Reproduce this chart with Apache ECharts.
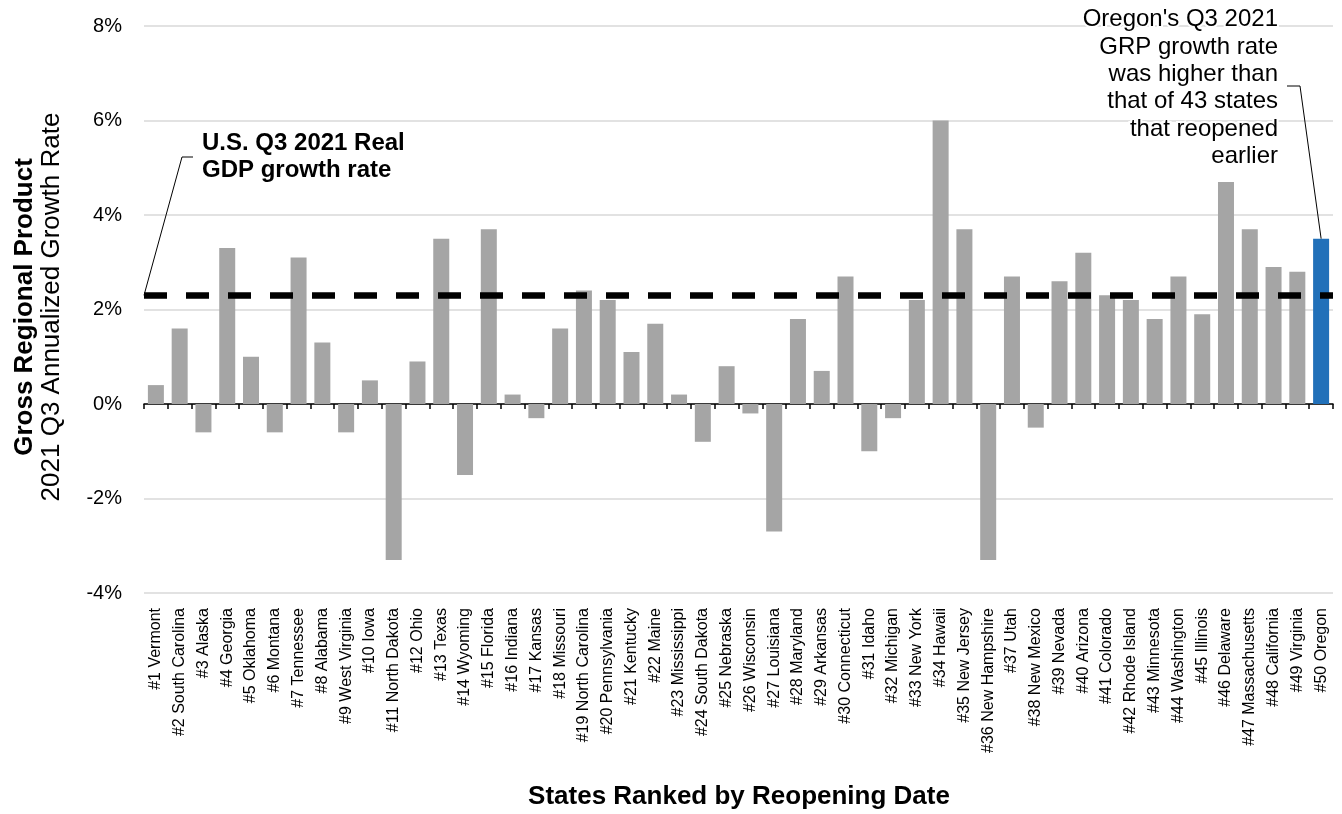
<!DOCTYPE html>
<html>
<head>
<meta charset="utf-8">
<title>Q3 2021 GRP Growth by Reopening Rank</title>
<script src="https://cdn.jsdelivr.net/npm/echarts@6/dist/echarts.min.js"></script>
<style>
  html, body { margin: 0; padding: 0; background: #fff; }
  #chart { width: 1342px; height: 814px; }
</style>
</head>
<body>
<div id="chart"></div>
<script>
// States in order of reopening date
const states = [
  '#1 Vermont', '#2 South Carolina', '#3 Alaska', '#4 Georgia', '#5 Oklahoma',
  '#6 Montana', '#7 Tennessee', '#8 Alabama', '#9 West Virginia', '#10 Iowa',
  '#11 North Dakota', '#12 Ohio', '#13 Texas', '#14 Wyoming', '#15 Florida',
  '#16 Indiana', '#17 Kansas', '#18 Missouri', '#19 North Carolina', '#20 Pennsylvania',
  '#21 Kentucky', '#22 Maine', '#23 Mississippi', '#24 South Dakota', '#25 Nebraska',
  '#26 Wisconsin', '#27 Louisiana', '#28 Maryland', '#29 Arkansas', '#30 Connecticut',
  '#31 Idaho', '#32 Michigan', '#33 New York', '#34 Hawaii', '#35 New Jersey',
  '#36 New Hampshire', '#37 Utah', '#38 New Mexico', '#39 Nevada', '#40 Arizona',
  '#41 Colorado', '#42 Rhode Island', '#43 Minnesota', '#44 Washington', '#45 Illinois',
  '#46 Delaware', '#47 Massachusetts', '#48 California', '#49 Virginia', '#50 Oregon'
];

// Q3 2021 annualized GRP growth rate, percent
const growth = [
  0.4, 1.6, -0.6, 3.3, 1.0,
  -0.6, 3.1, 1.3, -0.6, 0.5,
  -3.3, 0.9, 3.5, -1.5, 3.7,
  0.2, -0.3, 1.6, 2.4, 2.2,
  1.1, 1.7, 0.2, -0.8, 0.8,
  -0.2, -2.7, 1.8, 0.7, 2.7,
  -1.0, -0.3, 2.2, 6.0, 3.7,
  -3.3, 2.7, -0.5, 2.6, 3.2,
  2.3, 2.2, 1.8, 2.7, 1.9,
  4.7, 3.7, 2.9, 2.8, 3.5
];

// U.S. Q3 2021 real GDP growth rate, percent
const usGdpRate = 2.3;

// Value axis range and step, percent
const yMin = -4;
const yMax = 8;
const yStep = 2;

const highlightState = '#50 Oregon';

const FONT = "'Liberation Sans', Arial, sans-serif";
const GREY = '#A5A5A5';
const BLUE = '#2170B9';

const barData = growth.map((v, i) => ({
  value: v,
  itemStyle: { color: states[i] === highlightState ? BLUE : GREY }
}));

const chart = echarts.init(document.getElementById('chart'), null, { renderer: 'canvas' });

chart.setOption({
  animation: false,
  backgroundColor: '#fff',
  textStyle: { fontFamily: FONT },
  grid: { left: 144, right: 9, top: 26, bottom: 221, containLabel: false },
  xAxis: [
    {
      // category labels along the bottom of the plot
      type: 'category',
      data: states,
      position: 'bottom',
      axisLine: { show: false, onZero: false },
      axisTick: { show: false },
      splitLine: { show: false },
      axisLabel: {
        interval: 0, rotate: 90, margin: 15,
        fontSize: 16, color: '#000', fontFamily: FONT
      }
    },
    {
      // baseline at 0% with a tick between every pair of states
      type: 'category',
      data: states,
      position: 'bottom',
      axisLine: { show: true, onZero: true, lineStyle: { color: '#000', width: 1.5 } },
      axisTick: {
        show: true, interval: 0, length: 5, alignWithLabel: false,
        lineStyle: { color: '#000', width: 1.5 }
      },
      axisLabel: { show: false, interval: 0 },
      splitLine: { show: false }
    }
  ],
  yAxis: {
    type: 'value',
    min: yMin, max: yMax, interval: yStep,
    axisLine: { show: false },
    axisTick: { show: false },
    splitLine: { show: true, lineStyle: { color: '#D9D9D9', width: 1.5 } },
    axisLabel: {
      formatter: '{value}%', fontSize: 20, color: '#000', margin: 22, fontFamily: FONT
    }
  },
  series: [{
    type: 'bar',
    xAxisIndex: 0,
    data: barData,
    barWidth: 16,
    markLine: {
      silent: true,
      symbol: ['none', 'none'],
      label: { show: false },
      lineStyle: { color: '#000', width: 6.5, type: [23, 19] },
      data: [{ yAxis: usGdpRate }]
    }
  }]
});

// Annotation layout derived from the axes' own scales
const c0 = chart.convertToPixel({ xAxisIndex: 0, yAxisIndex: 0 }, [0, 0]);
const c1 = chart.convertToPixel({ xAxisIndex: 0, yAxisIndex: 0 }, [1, 0]);
const band = c1[0] - c0[0];
const plotLeft = c0[0] - band / 2;
const gdpY = chart.convertToPixel({ yAxisIndex: 0 }, usGdpRate);
const hiIdx = states.indexOf(highlightState);
const hiTop = chart.convertToPixel({ xAxisIndex: 0, yAxisIndex: 0 }, [hiIdx, growth[hiIdx]]);

const usNote = { x: 202, y: 157 };
const orNote = { x: 1278, y: 88 };

chart.setOption({
  graphic: [
    {
      type: 'text', x: 38, y: 307, rotation: Math.PI / 2,
      style: {
        text: '{b|Gross Regional Product}\n{r|2021 Q3 Annualized Growth Rate}',
        align: 'center', verticalAlign: 'middle',
        rich: {
          b: { fontFamily: FONT, fontSize: 26, fontWeight: 'bold', fill: '#000', lineHeight: 27, align: 'center' },
          r: { fontFamily: FONT, fontSize: 26, fill: '#000', lineHeight: 27, align: 'center' }
        }
      }
    },
    {
      type: 'text', x: 739, y: 797,
      style: {
        text: 'States Ranked by Reopening Date',
        font: 'bold 26px ' + FONT, fill: '#000',
        align: 'center', verticalAlign: 'middle'
      }
    },
    {
      type: 'polyline', z: 100,
      shape: { points: [[plotLeft, gdpY], [usNote.x - 20, usNote.y], [usNote.x - 9, usNote.y]] },
      style: { stroke: '#000', lineWidth: 1, fill: null }
    },
    {
      type: 'text', x: usNote.x, y: usNote.y, z: 100,
      style: {
        text: 'U.S. Q3 2021 Real\nGDP growth rate',
        font: 'bold 24px ' + FONT, fill: '#000', lineHeight: 27,
        align: 'left', verticalAlign: 'middle'
      }
    },
    {
      type: 'polyline', z: 100,
      shape: { points: [[orNote.x + 9, orNote.y - 2], [orNote.x + 22, orNote.y - 2], [hiTop[0], hiTop[1]]] },
      style: { stroke: '#000', lineWidth: 1, fill: null }
    },
    {
      type: 'text', x: orNote.x, y: orNote.y, z: 100,
      style: {
        text: "Oregon's Q3 2021\nGRP growth rate\nwas higher than\nthat of 43 states\nthat reopened\nearlier",
        font: '24px ' + FONT, fill: '#000', lineHeight: 27.4,
        align: 'right', verticalAlign: 'middle',
        stroke: '#fff', lineWidth: 4
      }
    }
  ]
});
</script>
</body>
</html>
